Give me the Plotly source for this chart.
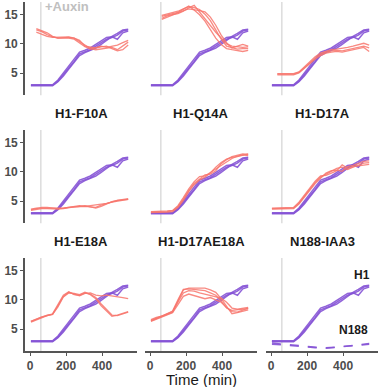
import plotly.graph_objects as go

W, H = 378, 387

# ---------------- data ----------------
time_min = [5, 35, 65, 95, 125, 155, 185, 215, 245, 275, 305, 335, 365, 395, 425, 455, 485, 515, 545]
auxin_time = 60

h1_rep1 = [2.9, 2.9, 2.9, 2.9, 2.9, 3.6, 4.7, 5.9, 7.0, 8.3, 8.7, 9.0, 9.6, 10.2, 10.8, 11.1, 11.5, 12.2, 12.4]
h1_rep2 = [3.0, 3.0, 3.0, 3.0, 3.0, 3.8, 5.0, 6.2, 7.3, 8.6, 8.9, 9.3, 9.9, 10.5, 11.1, 11.2, 10.8, 11.9, 12.2]
h1_rep3 = [2.8, 2.8, 2.8, 2.8, 2.8, 3.5, 4.5, 5.7, 6.8, 8.0, 8.5, 8.9, 9.3, 9.9, 10.6, 11.3, 11.8, 12.4, 12.5]

n188_rep1 = [2.6, 2.5, 2.4, 2.3, 2.2, 2.1, 2.0, 1.9, 1.9, 1.8, 1.8, 1.8, 1.9, 2.0, 2.1, 2.2, 2.3, 2.4, 2.5]
n188_rep2 = [2.4, 2.4, 2.3, 2.2, 2.1, 2.0, 2.0, 1.9, 1.8, 1.8, 1.7, 1.8, 1.9, 2.0, 2.1, 2.2, 2.2, 2.3, 2.4]

N = None
red_panel1 = [
    [N, 12.0, 11.6, 11.3, 11.1, 11.1, 11.2, 11.2, 11.0, 10.4, 9.8, 9.2, 9.0, 9.1, 9.3, 9.4, 9.0, 9.6, 10.3],
    [N, 12.4, 12.1, 11.6, 11.2, 11.0, 11.1, 11.1, 11.0, 10.6, 9.6, 9.4, 9.3, 9.5, 9.6, 9.2, 8.8, 9.0, 9.8],
    [N, 12.6, 12.3, 11.9, 11.3, 11.0, 11.0, 11.0, 10.8, 10.2, 9.5, 9.1, 9.3, 9.6, 9.4, 9.6, 9.8, 10.2, 10.6],
]
red_panel2 = [
    [N, N, 14.4, 14.8, 15.0, 15.2, 15.6, 16.2, 16.6, 15.4, 14.2, 13.0, 12.0, 11.0, 10.0, 9.6, 9.5, 9.4, 9.5],
    [N, N, 14.7, 15.0, 15.2, 15.4, 15.9, 16.5, 15.8, 15.0, 13.9, 12.5, 11.0, 9.9, 9.2, 9.0, 8.8, 8.7, 8.9],
    [N, N, 14.2, 14.6, 14.9, 15.3, 15.7, 16.0, 15.9, 15.7, 15.5, 14.6, 13.2, 11.5, 10.2, 9.3, 9.6, 9.9, 9.6],
    [N, N, 14.9, 15.1, 15.3, 15.6, 16.0, 16.4, 16.2, 15.9, 15.1, 14.0, 12.4, 10.8, 9.6, 9.4, 9.1, 9.2, 9.2],
]
red_panel3 = [
    [N, 4.8, 4.8, 4.8, 4.8, 5.1, 5.9, 6.8, 7.5, 8.2, 8.6, 8.8, 8.9, 8.8, 9.0, 9.2, 9.4, 9.6, 9.3],
    [N, 4.9, 4.9, 4.9, 4.9, 5.2, 6.1, 7.0, 7.8, 8.4, 8.7, 9.0, 9.1, 9.2, 9.4, 9.6, 9.8, 10.1, 9.8],
    [N, 4.7, 4.7, 4.7, 4.7, 5.0, 5.8, 6.6, 7.4, 8.0, 8.4, 8.6, 8.7, 8.6, 8.8, 9.0, 9.1, 9.4, 8.7],
]
red_f10a = [
    [3.6, 3.8, 3.8, 3.8, 3.7, 3.7, 3.8, 3.9, 4.0, 4.1, 4.1, 4.0, 3.9, 4.3, 4.6, 4.9, 5.1, 5.2, 5.3],
    [3.5, 3.7, 3.9, 3.9, 3.8, 3.7, 3.8, 3.9, 4.1, 4.2, 4.1, 4.2, 4.3, 4.4, 4.6, 4.8, 5.0, 5.2, 5.3],
    [3.4, 3.6, 3.7, 3.7, 3.6, 3.6, 3.7, 3.9, 4.0, 4.1, 4.2, 4.0, 3.8, 4.1, 4.5, 4.9, 5.1, 5.3, 5.4],
]
red_q14a = [
    [3.1, 3.1, 3.1, 3.2, 3.3, 4.0, 5.3, 6.8, 8.0, 8.8, 9.5, 9.6, 10.2, 11.4, 12.1, 12.6, 12.9, 13.1, 13.0],
    [3.2, 3.2, 3.2, 3.3, 3.4, 4.2, 5.6, 7.1, 8.3, 9.2, 9.3, 9.9, 10.6, 11.2, 11.8, 12.3, 12.7, 12.9, 12.8],
    [3.0, 3.0, 3.1, 3.1, 3.2, 3.9, 5.1, 6.6, 7.8, 8.6, 9.1, 9.8, 10.8, 11.6, 12.2, 12.5, 12.6, 12.8, 13.1],
]
red_d17a = [
    [3.7, 3.7, 3.7, 3.7, 3.8, 4.6, 5.8, 7.1, 8.2, 9.1, 9.6, 10.0, 10.6, 10.8, 10.4, 10.8, 11.2, 11.5, 11.6],
    [3.8, 3.8, 3.8, 3.8, 3.9, 4.8, 6.0, 7.3, 8.4, 9.3, 9.4, 9.8, 10.2, 11.2, 10.6, 10.9, 11.0, 11.2, 11.3],
    [3.6, 3.6, 3.6, 3.6, 3.7, 4.5, 5.6, 6.9, 8.0, 8.9, 9.8, 10.2, 10.3, 10.1, 10.9, 11.1, 11.4, 11.8, 11.9],
]
red_e18a = [
    [6.3, 6.7, 7.1, 7.3, 7.5, 9.0, 10.6, 11.3, 11.0, 10.7, 11.1, 11.2, 10.8, 10.7, 10.8, 10.7, 10.6, 10.4, 10.2],
    [6.2, 6.6, 7.0, 7.3, 7.6, 9.2, 10.8, 11.4, 10.9, 10.8, 11.2, 11.0, 10.4, 9.3, 8.4, 7.4, 7.3, 7.6, 7.9],
    [6.3, 6.7, 7.1, 7.4, 7.5, 8.8, 10.5, 11.2, 11.1, 10.9, 11.3, 10.9, 10.2, 9.0, 8.1, 7.2, 7.4, 7.7, 8.0],
]
red_d17ae18a = [
    [6.4, 6.8, 7.1, 7.5, 7.9, 9.8, 11.7, 12.0, 12.0, 12.0, 12.0, 11.7, 11.3, 10.2, 9.0, 7.6, 7.8, 8.1, 8.3],
    [6.5, 6.9, 7.3, 7.6, 8.0, 9.6, 11.2, 11.6, 11.5, 11.2, 11.0, 10.7, 10.5, 10.3, 9.6, 8.6, 8.4, 8.6, 8.7],
    [6.3, 6.7, 7.0, 7.4, 7.8, 9.2, 10.6, 11.0, 10.7, 10.4, 10.2, 10.4, 10.0, 9.6, 8.7, 8.0, 7.9, 8.3, 8.6],
    [6.6, 7.0, 7.2, 7.6, 8.1, 10.0, 11.8, 11.9, 11.8, 11.6, 11.6, 11.2, 10.8, 9.8, 8.6, 8.2, 8.3, 8.4, 8.5],
]

panel_titles = ["", "", "", "H1-F10A", "H1-Q14A", "H1-D17A", "H1-E18A", "H1-D17AE18A", "N188-IAA3"]
panel_red = [red_panel1, red_panel2, red_panel3, red_f10a, red_q14a, red_d17a, red_e18a, red_d17ae18a, []]

x_ticks = [0, 200, 400]
y_ticks = [5, 10, 15]
x_range = [-28, 594]
y_range = [1.2, 17.2]

# ---------------- style ----------------
PURPLE = "#8654D6"
RED = "#F8766D"
AXIS = "#555555"
FONT = "Liberation Sans, Arial, sans-serif"
TICKFONT = dict(family=FONT, size=12, color="#4d4d4d", weight="bold")

col_px = [(25, 137), (145, 257), (266, 378)]
row_px = [(1.9, 95.2), (129.9, 223.2), (257.9, 351.2)]

fig = go.Figure()
layout = dict(
    width=W, height=H, margin=dict(l=0, r=0, t=0, b=0),
    plot_bgcolor="white", paper_bgcolor="white", showlegend=False,
)
shapes = []
annotations = []

for i in range(9):
    r, c = divmod(i, 3)
    k = "" if i == 0 else str(i + 1)
    xa, ya = "x" + k, "y" + k
    x0, x1 = col_px[c]
    y0, y1 = row_px[r]
    xdom = [x0 / W, min(x1 / W, 1.0)]
    ydom = [1 - y1 / H, 1 - y0 / H]
    bottom = r == 2
    left = c == 0
    layout["xaxis" + k] = dict(
        domain=xdom, range=x_range, anchor=ya, showgrid=False, zeroline=False,
        showline=bottom, linecolor=AXIS, linewidth=1.6, automargin=False,
        ticks="outside" if bottom else "", ticklen=3, tickwidth=1.2, tickcolor=AXIS,
        tickvals=x_ticks, showticklabels=bottom, tickfont=TICKFONT,
    )
    layout["yaxis" + k] = dict(
        domain=ydom, range=y_range, anchor=xa, showgrid=False, zeroline=False,
        showline=left, linecolor=AXIS, linewidth=1.6, automargin=False,
        ticks="outside" if left else "", ticklen=3, tickwidth=1.2, tickcolor=AXIS,
        tickvals=y_ticks, showticklabels=left, tickfont=TICKFONT,
    )
    shapes.append(dict(type="line", xref=xa, yref=ya + " domain", x0=auxin_time, x1=auxin_time,
                       y0=0, y1=1, line=dict(color="#d3d3d3", width=1.2), layer="below"))
    if panel_titles[i]:
        annotations.append(dict(text="<b>" + panel_titles[i] + "</b>", xref="paper", yref="paper",
                                x=(x0 + x1) / 2 / W, y=1 - (y0 - 16) / H, showarrow=False,
                                xanchor="center", yanchor="middle",
                                font=dict(family=FONT, size=13, color="#1a1a1a")))
    for rep in (h1_rep1, h1_rep2, h1_rep3):
        fig.add_trace(go.Scatter(x=time_min, y=rep, mode="lines", xaxis=xa, yaxis=ya,
                                 line=dict(color=PURPLE, width=1.5), opacity=0.9, hoverinfo="skip"))
    if i == 8:
        for rep in (n188_rep1, n188_rep2):
            fig.add_trace(go.Scatter(x=time_min, y=rep, mode="lines", xaxis=xa, yaxis=ya,
                                     line=dict(color=PURPLE, width=1.5, dash="dash"), opacity=0.9,
                                     hoverinfo="skip"))
    for rep in panel_red[i]:
        fig.add_trace(go.Scatter(x=time_min, y=rep, mode="lines", xaxis=xa, yaxis=ya,
                                 line=dict(color=RED, width=1.3), opacity=0.85, hoverinfo="skip"))

annotations.append(dict(text="<b>+Auxin</b>", xref="paper", yref="paper", x=43 / W, y=1 - 7 / H,
                        showarrow=False, xanchor="left", yanchor="middle",
                        font=dict(family=FONT, size=13, color="#c0c0c0")))
annotations.append(dict(text="<b>H1</b>", xref="x9", yref="y9", x=503, y=14.2, showarrow=False,
                        xanchor="center", yanchor="middle",
                        font=dict(family=FONT, size=12, color="#1a1a1a")))
annotations.append(dict(text="<b>N188</b>", xref="x9", yref="y9", x=460, y=4.9, showarrow=False,
                        xanchor="center", yanchor="middle",
                        font=dict(family=FONT, size=12, color="#1a1a1a")))
annotations.append(dict(text="Time (min)", xref="paper", yref="paper", x=201 / W, y=1 - 379 / H,
                        showarrow=False, xanchor="center", yanchor="middle",
                        font=dict(family=FONT, size=15, color="#1a1a1a")))

layout["shapes"] = shapes
layout["annotations"] = annotations
fig.update_layout(**layout)
fig.write_html("out.html", config={"displayModeBar": False},
               post_script="document.body.style.margin='0';document.body.style.padding='0';")
